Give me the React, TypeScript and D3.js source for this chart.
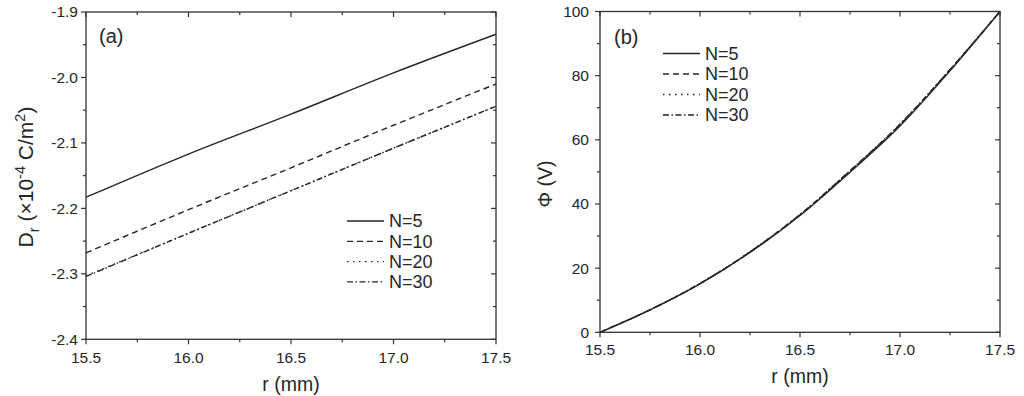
import React from "react";
import * as d3 from "d3";

// ---------- data ----------
const rA = [15.5, 16.0, 16.5, 17.0, 17.5];
const dN5 = [-2.183, -2.117, -2.056, -1.993, -1.934];
const dN10 = [-2.268, -2.202, -2.138, -2.073, -2.01];
const dN20 = [-2.303, -2.238, -2.173, -2.108, -2.044];
const dN30 = [-2.304, -2.238, -2.173, -2.108, -2.044];

const rB = [15.5, 15.75, 16.0, 16.25, 16.5, 16.75, 17.0, 17.25, 17.5];
const phiN5 = [0, 7.0, 15.1, 24.9, 36.4, 49.9, 64.3, 81.5, 100];
const phiN10 = [0, 7.0, 15.2, 25.0, 36.6, 50.2, 64.7, 81.8, 100];
const phiN20 = [0, 7.0, 15.2, 25.1, 36.7, 50.3, 64.8, 81.9, 100];
const phiN30 = [0, 7.0, 15.2, 25.1, 36.7, 50.4, 64.9, 81.9, 100];

const seriesNames = ["N=5", "N=10", "N=20", "N=30"];
const xTicks = [15.5, 16.0, 16.5, 17.0, 17.5];
const xTickLabels = ["15.5", "16.0", "16.5", "17.0", "17.5"];
const yTicksA = [-2.4, -2.3, -2.2, -2.1, -2.0, -1.9];
const yTickLabelsA = ["-2.4", "-2.3", "-2.2", "-2.1", "-2.0", "-1.9"];
const yTicksB = [0, 20, 40, 60, 80, 100];
const yTickLabelsB = ["0", "20", "40", "60", "80", "100"];

// ---------- styles ----------
const dashes = ["", "6,4", "1.5,4.5", "6,2.5,1.5,2.5"];
const INK = "#262626";
const AXIS = "#333";
const FONT = "Arial, 'Liberation Sans', Helvetica, sans-serif";

type PanelProps = {
  x0: number; x1: number; y0: number; y1: number;
  yDomain: [number, number];
  yTicks: number[]; yLabels: string[];
  xs: number[]; series: number[][];
  curve: d3.CurveFactory;
  yLabelGap: number; xLabelY: number; xTitleY: number;
  legendX: number; legendY: number; legendStep: number;
  tag: string; tagX: number; tagY: number;
  yTitle: React.ReactNode;
};

function Panel(p: PanelProps) {
  const x = d3.scaleLinear().domain([15.5, 17.5]).range([p.x0, p.x1]);
  const y = d3.scaleLinear().domain(p.yDomain).range([p.y1, p.y0]);
  const majL = 5, minL = 3;
  const xMinor = xTicks.slice(0, -1).map((v, i) => (v + xTicks[i + 1]) / 2);
  const yMinor = p.yTicks.slice(0, -1).map((v, i) => (v + p.yTicks[i + 1]) / 2);
  const line = d3.line<number>().x((_, i) => x(p.xs[i])).y((d) => y(d)).curve(p.curve);
  const order = [2, 1, 3, 0];
  return (
    <g>
      {order.map((si) => (
        <path key={si} d={line(p.series[si]) || ""} fill="none" stroke={INK}
          strokeWidth={1.4} strokeDasharray={dashes[si]} />
      ))}
      <rect x={p.x0} y={p.y0} width={p.x1 - p.x0} height={p.y1 - p.y0} fill="none" stroke={AXIS} strokeWidth={1.3} />
      {xTicks.map((v) => (
        <g key={"xt" + v}>
          <line x1={x(v)} x2={x(v)} y1={p.y1} y2={p.y1 + majL} stroke={AXIS} strokeWidth={1.2} />
          <line x1={x(v)} x2={x(v)} y1={p.y0} y2={p.y0 + majL} stroke={AXIS} strokeWidth={1.2} />
        </g>
      ))}
      {xMinor.map((v) => (
        <g key={"xm" + v}>
          <line x1={x(v)} x2={x(v)} y1={p.y1} y2={p.y1 + minL} stroke={AXIS} strokeWidth={1.2} />
          <line x1={x(v)} x2={x(v)} y1={p.y0} y2={p.y0 + minL} stroke={AXIS} strokeWidth={1.2} />
        </g>
      ))}
      {p.yTicks.map((v) => (
        <g key={"yt" + v}>
          <line x1={p.x0 - majL} x2={p.x0} y1={y(v)} y2={y(v)} stroke={AXIS} strokeWidth={1.2} />
          <line x1={p.x1 - majL} x2={p.x1} y1={y(v)} y2={y(v)} stroke={AXIS} strokeWidth={1.2} />
        </g>
      ))}
      {yMinor.map((v) => (
        <g key={"ym" + v}>
          <line x1={p.x0 - minL} x2={p.x0} y1={y(v)} y2={y(v)} stroke={AXIS} strokeWidth={1.2} />
          <line x1={p.x1 - minL} x2={p.x1} y1={y(v)} y2={y(v)} stroke={AXIS} strokeWidth={1.2} />
        </g>
      ))}
      {xTicks.map((v, i) => (
        <text key={"xl" + v} x={x(v)} y={p.xLabelY} textAnchor="middle" fontSize={15.5} fill={INK} fontFamily={FONT}>
          {xTickLabels[i]}
        </text>
      ))}
      {p.yTicks.map((v, i) => (
        <text key={"yl" + v} x={p.x0 - p.yLabelGap} y={y(v)} dy="0.35em" textAnchor="end" fontSize={15.5} fill={INK} fontFamily={FONT}>
          {p.yLabels[i]}
        </text>
      ))}
      <text x={(p.x0 + p.x1) / 2} y={p.xTitleY} textAnchor="middle" fontSize={19.5} fill={INK} fontFamily={FONT}>r (mm)</text>
      <text x={p.tagX} y={p.tagY} fontSize={20} fill={INK} fontFamily={FONT}>{p.tag}</text>
      {seriesNames.map((n, i) => {
        const ly = p.legendY + i * p.legendStep;
        return (
          <g key={"lg" + n}>
            <line x1={p.legendX} x2={p.legendX + 37} y1={ly} y2={ly} stroke={INK} strokeWidth={1.3} strokeDasharray={dashes[i]} />
            <text x={p.legendX + 42} y={ly} dy="0.36em" fontSize={18} fill={INK} fontFamily={FONT}>{n}</text>
          </g>
        );
      })}
      {p.yTitle}
    </g>
  );
}

export default function App() {
  return (
    <svg width={1024} height={396} style={{ position: "absolute", left: 0, top: 0, background: "#fff" }}>
      <rect width={1024} height={396} fill="#fff" />
      <Panel x0={86} x1={496} y0={12} y1={339.3} yDomain={[-2.4, -1.9]}
        yTicks={yTicksA} yLabels={yTickLabelsA} xs={rA}
        series={[dN5, dN10, dN20, dN30]} curve={d3.curveMonotoneX}
        yLabelGap={8} xLabelY={363} xTitleY={391}
        legendX={347} legendY={221} legendStep={20.3}
        tag="(a)" tagX={99} tagY={43}
        yTitle={
          <text transform="translate(33,177) rotate(-90)" textAnchor="middle" fontSize={21} fill={INK} fontFamily={FONT}>
            D<tspan fontSize={14.5} dy={6}>r</tspan>
            <tspan dy={-6}> (×10</tspan>
            <tspan fontSize={14.5} dy={-8}>-4</tspan>
            <tspan dy={8}> C/m</tspan>
            <tspan fontSize={14.5} dy={-8}>2</tspan>
            <tspan dy={8}>)</tspan>
          </text>
        }
      />
      <Panel x0={600} x1={1000} y0={11.5} y1={332.3} yDomain={[0, 100]}
        yTicks={yTicksB} yLabels={yTickLabelsB} xs={rB}
        series={[phiN5, phiN10, phiN20, phiN30]} curve={d3.curveMonotoneX}
        yLabelGap={11} xLabelY={355} xTitleY={383}
        legendX={663} legendY={53.5} legendStep={20.5}
        tag="(b)" tagX={614} tagY={44}
        yTitle={
          <text transform="translate(552,184) rotate(-90)" textAnchor="middle" fontSize={19.5} fill={INK} fontFamily={FONT}>
            Φ (V)
          </text>
        }
      />
    </svg>
  );
}
